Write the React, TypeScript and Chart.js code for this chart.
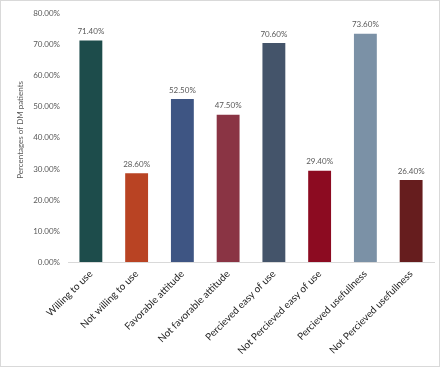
import React, { useEffect, useRef } from "react";
import { Chart, registerables } from "chart.js";
Chart.register(...registerables);

const categories = [
  "Willing to use",
  "Not willing to use",
  "Favorable attitude",
  "Not favorable attitude",
  "Percieved easy of use",
  "Not Percieved easy of use",
  "Percieved usefullness",
  "Not Percieved usefullness",
];
const values = [71.4, 28.6, 52.5, 47.5, 70.6, 29.4, 73.6, 26.4];
const barColors = [
  "#1D4C4B",
  "#B94323",
  "#3E5583",
  "#8A3444",
  "#44546A",
  "#8C0B21",
  "#7B91A6",
  "#661D1E",
];
const yAxisTitle = "Percentages of DM patients";
const yMin = 0;
const yMax = 80;
const yStep = 10;

const FONT = "Lato";

const dataLabelPlugin = {
  id: "dataLabels",
  afterDatasetsDraw(chart: any) {
    const ctx = chart.ctx;
    const meta = chart.getDatasetMeta(0);
    ctx.save();
    ctx.font = `8px ${FONT}`;
    ctx.fillStyle = "#595959";
    ctx.textAlign = "center";
    ctx.textBaseline = "bottom";
    meta.data.forEach((bar: any, i: number) => {
      ctx.fillText(values[i].toFixed(2) + "%", bar.x, bar.y - 5);
    });
    ctx.restore();
  },
};

const yTitlePlugin = {
  id: "yTitle",
  afterDraw(chart: any) {
    const ctx = chart.ctx;
    const area = chart.chartArea;
    ctx.save();
    ctx.translate(19, (area.top + area.bottom) / 2 - 8);
    ctx.rotate(-Math.PI / 2);
    ctx.font = `8px ${FONT}`;
    ctx.fillStyle = "#595959";
    ctx.textAlign = "center";
    ctx.textBaseline = "middle";
    ctx.fillText(yAxisTitle, 0, 0);
    ctx.restore();
  },
};

export default function App() {
  const ref = useRef<HTMLCanvasElement | null>(null);
  useEffect(() => {
    document.body.style.margin = "0";
    if (!ref.current) return;
    const chart = new Chart(ref.current, {
      type: "bar",
      data: {
        labels: categories,
        datasets: [
          {
            data: values,
            backgroundColor: barColors,
            borderWidth: 0,
            categoryPercentage: 1,
            barPercentage: 0.5,
          },
        ],
      },
      plugins: [dataLabelPlugin, yTitlePlugin],
      options: {
        animation: false,
        responsive: false,
        maintainAspectRatio: false,
        layout: { padding: { top: 12, right: 5, left: 0, bottom: 0 } },
        plugins: {
          legend: { display: false },
          tooltip: { enabled: false },
        },
        scales: {
          x: {
            grid: { display: false, drawTicks: false },
            border: { display: true, color: "#D9D9D9", width: 1 },
            ticks: {
              color: "#262626",
              font: { family: FONT, size: 10 },
              maxRotation: 45,
              minRotation: 45,
              autoSkip: false,
              padding: 6,
            },
            afterFit: (s: any) => {
              s.height = 104;
            },
          },
          y: {
            min: yMin,
            max: yMax,
            grid: { display: false, drawTicks: false },
            border: { display: false },
            ticks: {
              stepSize: yStep,
              color: "#595959",
              font: { family: FONT, size: 8 },
              padding: 8,
              callback: (v: any) => Number(v).toFixed(2) + "%",
            },
            afterFit: (s: any) => {
              s.width = 67;
            },
          },
        },
      },
    });
    return () => chart.destroy();
  }, []);
  return (
    <div
      style={{
        width: 440,
        height: 367,
        border: "1px solid #D9D9D9",
        boxSizing: "border-box",
        background: "#fff",
      }}
    >
      <canvas ref={ref} width={438} height={365} style={{ display: "block" }} />
    </div>
  );
}
